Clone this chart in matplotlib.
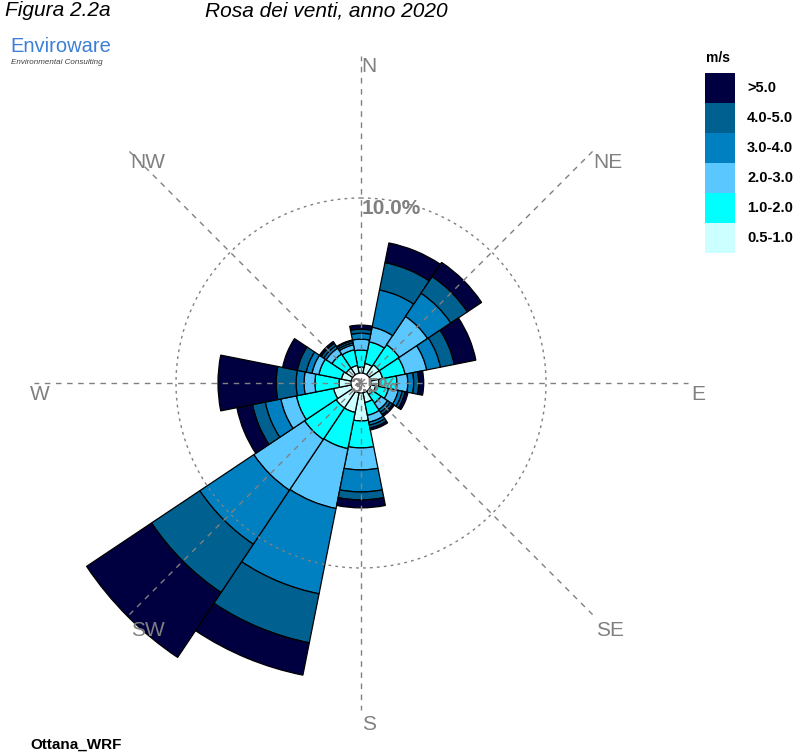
import numpy as np
import matplotlib
matplotlib.use('Agg')
from matplotlib import pyplot as plt
from matplotlib.patches import Rectangle

plt.rcParams['font.family'] = ['Liberation Sans', 'DejaVu Sans']

# wind directions (16 sectors, clockwise from north)
directions = ['N', 'NNE', 'NE', 'ENE', 'E', 'ESE', 'SE', 'SSE',
              'S', 'SSW', 'SW', 'WSW', 'W', 'WNW', 'NW', 'NNW']

# speed classes (m/s), inner to outer
classes = ['0.5-1.0', '1.0-2.0', '2.0-3.0', '3.0-4.0', '4.0-5.0', '>5.0']
colors = ['#ccffff', '#00ffff', '#5ac8ff', '#0080c0', '#006090', '#000040']

# frequency (%) of each class per direction
f_05_10 = [0.32, 0.54, 0.65, 0.65, 0.43, 0.27, 0.22, 0.54,
           1.51, 1.08, 1.08, 0.97, 0.65, 0.54, 0.43, 0.43]
f_10_20 = [0.92, 1.19, 1.30, 1.24, 0.97, 0.70, 0.54, 0.70,
           1.46, 2.00, 2.05, 2.05, 1.30, 1.24, 0.92, 0.86]
f_20_30 = [0.59, 0.81, 1.84, 1.19, 0.59, 0.54, 0.43, 0.38,
           1.19, 3.30, 3.30, 0.86, 0.59, 0.38, 0.38, 0.27]
f_30_40 = [0.32, 2.05, 1.51, 0.76, 0.32, 0.22, 0.16, 0.16,
           1.19, 4.70, 3.51, 0.86, 0.43, 0.32, 0.16, 0.11]
f_40_50 = [0.22, 1.51, 1.08, 0.76, 0.27, 0.16, 0.16, 0.16,
           0.43, 2.70, 3.14, 0.70, 1.08, 0.49, 0.16, 0.11]
f_gt_50 = [0.22, 1.08, 0.92, 1.19, 0.27, 0.16, 0.11, 0.11,
           0.43, 1.78, 4.22, 0.86, 3.14, 0.81, 0.11, 0.05]

calm_offset = 0.54
calm_label = '3.5%'
ring_value = 10.0

W, H = 800, 753


def px(x, y):
    return x / W, 1 - y / H


fig = plt.figure(figsize=(W / 100, H / 100), dpi=100)

# polar axes centred on (361, 383) px, 18.5 px per percent
cx, cy = 361, 383
rmax = 18.0
R = rmax * 18.5
ax = fig.add_axes([(cx - R) / W, (H - cy - R) / H, 2 * R / W, 2 * R / H],
                  projection='polar')
ax.set_theta_zero_location('N')
ax.set_theta_direction(-1)
ax.set_ylim(0, rmax)
ax.set_xticks([])
ax.set_yticks([])
ax.grid(False)
ax.spines['polar'].set_visible(False)
ax.patch.set_alpha(0)

theta = np.radians(np.arange(16) * 22.5)
width = np.radians(22.5)
series = [f_05_10, f_10_20, f_20_30, f_30_40, f_40_50, f_gt_50]
bottom = np.full(16, calm_offset)
for vals, c in zip(series, colors):
    vals = np.array(vals)
    ax.bar(theta, vals, width=width, bottom=bottom, color=c,
           edgecolor='black', linewidth=0.9, zorder=2)
    bottom = bottom + vals

# dashed spokes and 10% ring
grey = '#808080'
for a in np.radians(np.arange(8) * 45):
    ax.plot([a, a], [0, 17.7], color=grey, lw=1.0, ls=(0, (4, 4)), zorder=4)
t = np.linspace(0, 2 * np.pi, 400)
ax.plot(t, np.full_like(t, ring_value), color=grey, lw=1.0,
        ls=(0, (2, 3)), zorder=4)

# compass labels (pixel positions in the original layout)
label_xy = {'N': (369, 66), 'NE': (608, 162), 'E': (698, 395),
            'SE': (610, 630), 'S': (369, 725), 'SW': (148, 630),
            'W': (40, 395), 'NW': (148, 162)}
for d, (x, y) in label_xy.items():
    fig.text(*px(x, y), d, color=grey, fontsize=15, ha='center',
             va='center')

fig.text(*px(362, 209), '%.1f%%' % ring_value, color=grey, fontsize=15,
         fontweight='bold', ha='left', va='center', zorder=5)
fig.text(*px(374, 387), calm_label, color=grey, fontsize=15,
         fontweight='bold', ha='center', va='center', zorder=6)

# titles and logo
fig.text(*px(5, 11), 'Figura 2.2a', fontsize=15, style='italic',
         ha='left', va='center')
fig.text(*px(205, 11), 'Rosa dei venti, anno 2020', fontsize=15,
         style='italic', ha='left', va='center')
fig.text(*px(10, 47), 'Enviroware', fontsize=14.5, color='#3d7fd6',
         ha='left', va='center')
fig.text(*px(11, 63), 'Environmental Consulting', fontsize=5.8,
         style='italic', color='#404040', ha='left', va='center')
fig.text(*px(30, 745), 'Ottana_WRF', fontsize=11, fontweight='bold',
         ha='left', va='center')

# legend
fig.text(*px(706, 58), 'm/s', fontsize=10, fontweight='bold',
         ha='left', va='center')
for k, (lab, c) in enumerate(zip(classes[::-1], colors[::-1])):
    y0 = 73 + k * 30
    x0, y1 = px(705, y0 + 30)
    fig.add_artist(Rectangle((x0, y1), 30 / W, 30 / H, facecolor=c,
                             edgecolor='none', transform=fig.transFigure))
    fig.text(*px(747, y0 + 15), lab, fontsize=10.5, fontweight='bold',
             ha='left', va='center')

plt.savefig('out.png', dpi=100)
